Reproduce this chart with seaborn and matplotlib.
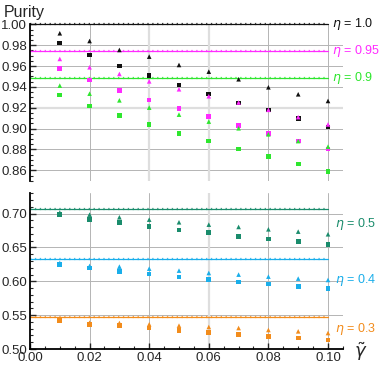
import numpy as np
import pandas as pd
import matplotlib
matplotlib.use("Agg")
import matplotlib.pyplot as plt
from matplotlib.ticker import MultipleLocator
import seaborn as sns

# ---------------- data ----------------
gamma = [0.01, 0.02, 0.03, 0.04, 0.05, 0.06, 0.07, 0.08, 0.09, 0.10]

tri_10 = [0.9914, 0.984, 0.9754, 0.969, 0.961, 0.9546, 0.9473, 0.9396, 0.9329, 0.9265]
sq_10 = [0.9821, 0.9706, 0.960, 0.9508, 0.9418, 0.9332, 0.9246, 0.9179, 0.9099, 0.9016]
tri_095 = [0.9668, 0.9588, 0.9524, 0.9453, 0.9377, 0.931, 0.925, 0.918, 0.911, 0.904]
sq_095 = [0.9575, 0.9466, 0.9364, 0.9275, 0.9191, 0.9115, 0.9028, 0.8952, 0.8881, 0.8805]
tri_09 = [0.9412, 0.9335, 0.9271, 0.9201, 0.9134, 0.9067, 0.9003, 0.8945, 0.888, 0.8827]
sq_09 = [0.9322, 0.9217, 0.9124, 0.9038, 0.8955, 0.8881, 0.8805, 0.8731, 0.8661, 0.8587]
tri_05 = [0.7015, 0.6985, 0.6946, 0.6911, 0.6872, 0.6837, 0.6803, 0.6768, 0.6734, 0.6695]
sq_05 = [0.6985, 0.6916, 0.6867, 0.6808, 0.6759, 0.6719, 0.666, 0.6626, 0.6586, 0.6542]
tri_04 = [0.6271, 0.6227, 0.6217, 0.6187, 0.6158, 0.6123, 0.6099, 0.6069, 0.604, 0.602]
sq_04 = [0.6246, 0.6197, 0.6143, 0.6108, 0.6064, 0.603, 0.599, 0.5961, 0.5926, 0.5892]
tri_03 = [0.5438, 0.5389, 0.5384, 0.5365, 0.5345, 0.5325, 0.531, 0.5281, 0.5261, 0.5236]
sq_03 = [0.5419, 0.5365, 0.5345, 0.531, 0.5271, 0.5241, 0.5212, 0.5187, 0.5163, 0.5133]

eta_top = ["1.0", "0.95", "0.9"]
eta_bottom = ["0.5", "0.4", "0.3"]
colors = {"1.0": "#111111", "0.95": "#ff2bff", "0.9": "#2ee62e",
          "0.5": "#1a8c6c", "0.4": "#1aaeea", "0.3": "#f28c1c"}

series = {
    "1.0": (tri_10, sq_10), "0.95": (tri_095, sq_095), "0.9": (tri_09, sq_09),
    "0.5": (tri_05, sq_05), "0.4": (tri_04, sq_04), "0.3": (tri_03, sq_03),
}

rows = []
for eta, (tri, sq) in series.items():
    for g, t, s in zip(gamma, tri, sq):
        rows.append({"gamma": g, "purity": t, "eta": eta, "kind": "tri"})
        rows.append({"gamma": g, "purity": s, "eta": eta, "kind": "sq"})
df = pd.DataFrame(rows)

# ---------------- figure ----------------
sns.set_style("white")
plt.rcParams["font.family"] = ["Liberation Sans", "DejaVu Sans"]
plt.rcParams["mathtext.fontset"] = "dejavusans"

fig = plt.figure(figsize=(3.81, 3.65), dpi=100)
ax_top = fig.add_axes([0.0787, 0.5048, 0.8213, 0.4286])
ax_bot = fig.add_axes([0.0787, 0.0438, 0.8213, 0.4266])

grid_c = "#b4b4b4"
light_c = "#dedede"


def style_axes(ax, ylim, ymaj, ymin, grid_y, light_y, light_x):
    ax.set_xlim(0, 0.105)
    ax.set_ylim(*ylim)
    for y in grid_y:
        if any(abs(y - ly) < 1e-9 for ly in light_y):
            ax.axhline(y, color=light_c, lw=1.6, zorder=0)
        else:
            ax.axhline(y, color=grid_c, lw=0.7, zorder=0)
    for x in [0.02, 0.04, 0.06, 0.08, 0.10]:
        if any(abs(x - lx) < 1e-9 for lx in light_x):
            ax.axvline(x, color=light_c, lw=1.6, zorder=0)
        else:
            ax.axvline(x, color=grid_c, lw=0.7, zorder=0)
    ax.yaxis.set_major_locator(MultipleLocator(ymaj))
    ax.yaxis.set_minor_locator(MultipleLocator(ymin))
    ax.tick_params(axis="y", which="major", direction="in", length=4, width=1,
                   labelsize=9.5, pad=2, left=True)
    ax.tick_params(axis="y", which="minor", direction="in", length=2, width=0.8, left=True)
    for sp in ["top", "right"]:
        ax.spines[sp].set_visible(False)
    ax.spines["left"].set_color("black")
    ax.spines["left"].set_linewidth(1.3)
    ax.set_xlabel("")
    ax.set_ylabel("")


def draw(ax, etas):
    sub = df[df["eta"].isin(etas)]
    sns.scatterplot(data=sub, x="gamma", y="purity", hue="eta", style="kind",
                    palette={e: colors[e] for e in etas},
                    markers={"tri": "^", "sq": "s"}, s=11, linewidth=0,
                    legend=False, ax=ax, zorder=3)
    for e in etas:
        y = np.sqrt(float(e))
        ax.plot([0, 0.10], [y, y], color=colors[e], lw=0.9, zorder=2, clip_on=False)
        ax.plot([0, 0.10], [y, y], color=colors[e], lw=1.6, ls=(0, (0.6, 1.6)),
                zorder=2, clip_on=False, alpha=0.8)


# top panel
draw(ax_top, eta_top)
style_axes(ax_top, (0.85, 1.0), 0.02, 0.005,
           [0.86, 0.88, 0.90, 0.92, 0.94, 0.96, 0.98], [0.92], [0.04, 0.06])
ax_top.spines["bottom"].set_visible(False)
ax_top.tick_params(axis="x", which="both", bottom=False, labelbottom=False)
ax_top.set_yticks([0.86, 0.88, 0.90, 0.92, 0.94, 0.96, 0.98, 1.00])
ax_top.set_yticklabels(["0.86", "0.88", "0.90", "0.92", "0.94", "0.96", "0.98", "1.00"])

# bottom panel
draw(ax_bot, eta_bottom)
style_axes(ax_bot, (0.5, 0.73), 0.05, 0.01,
           [0.55, 0.60, 0.65, 0.70], [], [0.06])
ax_bot.spines["bottom"].set_color("black")
ax_bot.spines["bottom"].set_linewidth(1.3)
ax_bot.xaxis.set_major_locator(MultipleLocator(0.02))
ax_bot.xaxis.set_minor_locator(MultipleLocator(0.005))
ax_bot.tick_params(axis="x", which="major", direction="in", length=4, width=1,
                   labelsize=9.5, pad=2.5, bottom=True)
ax_bot.tick_params(axis="x", which="minor", direction="in", length=2, width=0.8, bottom=True)
ax_bot.set_xticks([0.00, 0.02, 0.04, 0.06, 0.08, 0.10])
ax_bot.set_xticklabels(["0.00", "0.02", "0.04", "0.06", "0.08", "0.10"])
ax_bot.set_yticks([0.50, 0.55, 0.60, 0.65, 0.70])
ax_bot.set_yticklabels(["0.50", "0.55", "0.60", "0.65", "0.70"])

# eta labels
lab_top = {"1.0": 1.0, "0.95": np.sqrt(0.95), "0.9": np.sqrt(0.9)}
for e in eta_top:
    ax_top.text(0.1012, lab_top[e], r"$\eta$ = " + e, color=colors[e],
                fontsize=9, va="center", ha="left", clip_on=False)
lab_bot = {"0.5": 0.685, "0.4": 0.602, "0.3": 0.529}
for e in eta_bottom:
    ax_bot.text(0.1025, lab_bot[e], r"$\eta$ = " + e, color=colors[e],
                fontsize=9, va="center", ha="left", clip_on=False)

fig.text(4 / 381, 1 - 12 / 365, "Purity", fontsize=11.5, va="center", ha="left")
fig.text(354 / 381, 1 - 352 / 365, r"$\tilde{\gamma}$", fontsize=13, va="center", ha="left")

fig.savefig("out.png", dpi=100)
